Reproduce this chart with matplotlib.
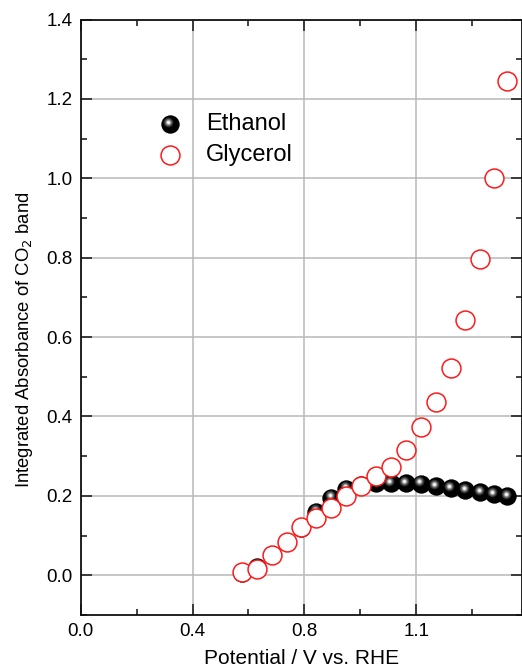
"""Integrated CO2 band absorbance vs potential, ethanol vs glycerol."""
import matplotlib
matplotlib.use("Agg")
import matplotlib.pyplot as plt
from matplotlib.transforms import offset_copy
from matplotlib.ticker import FixedLocator, MultipleLocator

plt.rcParams["font.family"] = ["Liberation Sans", "DejaVu Sans"]

# potentials (V vs. RHE), shared by both series
potential = [0.54, 0.59, 0.64, 0.69, 0.74, 0.79, 0.84, 0.89, 0.94, 0.99,
             1.04, 1.09, 1.14, 1.19, 1.24, 1.29, 1.34, 1.385, 1.43]
ethanol = [0.005, 0.02, 0.05, 0.085, 0.12, 0.16, 0.195, 0.218, 0.228, 0.232,
           0.232, 0.232, 0.23, 0.224, 0.219, 0.214, 0.209, 0.204, 0.199]
glycerol = [0.007, 0.017, 0.051, 0.085, 0.121, 0.145, 0.170, 0.199, 0.224, 0.251,
            0.274, 0.316, 0.373, 0.437, 0.523, 0.644, 0.797, 1.0, 1.246]

x_ticks = [0.0, 0.375, 0.75, 1.125]
x_ticklabels = ["0.0", "0.4", "0.8", "1.1"]
y_ticks = [0.0, 0.2, 0.4, 0.6, 0.8, 1.0, 1.2, 1.4]

GRID = "#b8b8b8"
RED = "#ff1a1a"

fig = plt.figure(figsize=(5.22, 6.67), dpi=100)
ax = fig.add_axes([0.1546, 0.078, 0.8445, 0.8927])


def balls(xs, ys, trans, z=3):
    """Black spheres with a soft highlight slightly up and to the left."""
    ax.scatter(xs, ys, s=175, c="black", linewidths=0, transform=trans,
               zorder=z, clip_on=False)
    hl = offset_copy(trans, fig=fig, x=-1.5, y=2.5, units="dots")
    for size, col in ((50, "#2c2c2c"), (30, "#5a5a5a"), (16, "#909090"),
                      (8, "#d0d0d0"), (3, "white")):
        ax.scatter(xs, ys, s=size, c=col, linewidths=0, transform=hl,
                   zorder=z + 0.1, clip_on=False)


def rings(xs, ys, trans, z=5):
    ax.scatter(xs, ys, s=185, facecolors="white", edgecolors=RED,
               linewidths=1.1, transform=trans, zorder=z, clip_on=False)


balls(potential, ethanol, ax.transData)
rings(potential, glycerol, ax.transData)

# legend, drawn by hand so the sphere marker matches
balls([0.2024], [0.8245], ax.transAxes, z=6)
rings([0.2024], [0.7725], ax.transAxes, z=6)
ax.text(0.284, 0.8245, "Ethanol", transform=ax.transAxes, fontsize=17,
        va="center", ha="left")
ax.text(0.284, 0.7725, "Glycerol", transform=ax.transAxes, fontsize=17,
        va="center", ha="left")

ax.set_xlim(0, 1.478)
ax.set_ylim(-0.1, 1.4)
ax.xaxis.set_major_locator(FixedLocator(x_ticks))
ax.set_xticklabels(x_ticklabels)
ax.xaxis.set_minor_locator(MultipleLocator(0.1875))
ax.yaxis.set_major_locator(FixedLocator(y_ticks))
ax.set_yticklabels([f"{v:.1f}" for v in y_ticks])
ax.yaxis.set_minor_locator(MultipleLocator(0.1))

ax.grid(True, which="major", color=GRID, lw=1.1)
ax.set_axisbelow(True)
ax.tick_params(which="both", direction="in", top=True, right=True,
               labelsize=13.5, width=1.2, color="#222222", pad=6)
ax.tick_params(which="major", length=8)
ax.tick_params(which="minor", length=4)
for sp in ax.spines.values():
    sp.set_linewidth(1.3)
    sp.set_color("#111111")

ax.set_xlabel("Potential / V vs. RHE", fontsize=15, labelpad=6)
ax.set_ylabel("Integrated Absorbance of CO$_2$ band", fontsize=13.3)
ax.yaxis.set_label_coords(-0.104, 0.462)

fig.savefig("out.png", dpi=100)
